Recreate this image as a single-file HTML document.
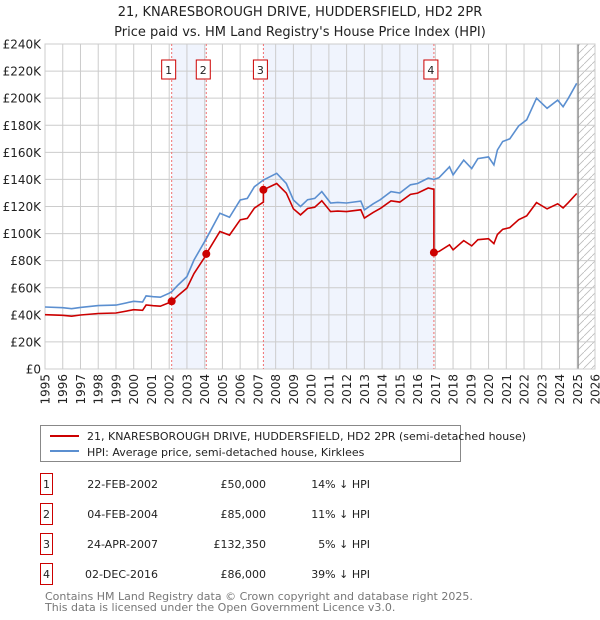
<!DOCTYPE html>
<html><head><meta charset="utf-8"><style>
body{margin:0;background:#fff;font-family:"DejaVu Sans","Liberation Sans",sans-serif;}
#wrap{position:relative;width:600px;height:620px;overflow:hidden;}
svg text{font-family:"DejaVu Sans","Liberation Sans",sans-serif;}
</style></head><body>
<div id="wrap">
<svg id="chart" width="600" height="620"></svg>
</div>
<script>
const hpiYears=[1995,1996,1996.5,1997,1998,1999,2000,2000.5,2000.7,2001.1,2001.5,2002,2002.14,2002.5,2003,2003.4,2004.1,2004.86,2005.4,2006,2006.4,2006.8,2007.31,2008.06,2008.6,2009,2009.4,2009.8,2010.2,2010.6,2011.1,2011.5,2012,2012.8,2013,2013.5,2013.9,2014.5,2015,2015.6,2016,2016.6,2016.92,2017.2,2017.8,2018,2018.6,2019.05,2019.4,2020,2020.3,2020.5,2020.8,2021.2,2021.7,2022.15,2022.7,2023.3,2023.9,2024.2,2024.5,2024.97];
const hpiValues=[45.8,45.3,44.5,45.5,46.8,47.2,50,49.5,54,53.4,53,56,57.1,62,68.2,80.5,96.5,115,112,124.8,126,134.6,139.6,144.5,137,124.8,120,125,126,131,122.6,123,122.6,124,117.5,122,125,131,130,136,137,141,140,141.2,149.3,143.3,154.3,148,155.4,156.6,150.7,161.7,168,170,179.5,184,200,192.5,198.6,193.7,200,211];
const saleYears=[2002.14,2004.09,2007.31,2016.92];
const salePrices=[50,85,132.35,86];
const saleLabels=["1","2","3","4"];
const yTicks=[0,20,40,60,80,100,120,140,160,180,200,220,240];
const xTicks=[1995,1996,1997,1998,1999,2000,2001,2002,2003,2004,2005,2006,2007,2008,2009,2010,2011,2012,2013,2014,2015,2016,2017,2018,2019,2020,2021,2022,2023,2024,2025,2026];

const L=45,R=595,T=44,B=369,X0=1995,X1=2026;
const NS="http://www.w3.org/2000/svg";
const svg=document.getElementById('chart');
function sx(v){return L+(v-X0)/(X1-X0)*(R-L);}
function sy(v){return B-v/240*(B-T);}
function mk(tag,at,parent){const e=document.createElementNS(NS,tag);for(const k in at)e.setAttribute(k,at[k]);(parent||svg).appendChild(e);return e;}
function hpiAt(y){for(let i=0;i<hpiYears.length-1;i++){if(y>=hpiYears[i]&&y<=hpiYears[i+1]){const t=(y-hpiYears[i])/(hpiYears[i+1]-hpiYears[i]);return hpiValues[i]+t*(hpiValues[i+1]-hpiValues[i]);}}return y<hpiYears[0]?hpiValues[0]:hpiValues[hpiValues.length-1];}

let t=mk('text',{x:300,y:16,'text-anchor':'middle','font-size':'13',fill:'#222'});t.textContent="21, KNARESBOROUGH DRIVE, HUDDERSFIELD, HD2 2PR";


t=mk('text',{x:300,y:36,'text-anchor':'middle','font-size':'13',fill:'#222'});t.textContent="Price paid vs. HM Land Registry's House Price Index (HPI)";



for(let i=0;i<saleYears.length-1;i+=2){
  const r=mk('rect',{x:sx(saleYears[i]),y:T,width:sx(saleYears[i+1])-sx(saleYears[i]),height:B-T,fill:'#f0f4fd'});
  
  
}
const defs=mk('defs',{});
const pat=mk('pattern',{id:'hatch',width:8,height:8,patternUnits:'userSpaceOnUse'},defs);
mk('path',{d:'M0,8 L8,0',stroke:'#bbb','stroke-width':'0.8'},pat);
const hr=mk('rect',{x:sx(2025.05),y:T,width:R-sx(2025.05),height:B-T,fill:'url(#hatch)'});



yTicks.forEach(v=>{
  const g=mk('line',{x1:L,x2:R,y1:sy(v),y2:sy(v),stroke:'#cccccc','stroke-width':'1'});
  
  
  const tx=mk('text',{x:L-4,y:sy(v)+4.5,'text-anchor':'end','font-size':'12',fill:'#222'});
  tx.textContent=v===0?'£0':'£'+v+'K';
  
  
});
xTicks.forEach((v,i)=>{
  const g=mk('line',{x1:sx(v),x2:sx(v),y1:T,y2:B,stroke:'#cccccc','stroke-width':'1'});
  
  
  const x=sx(v)+4.5;
  const tx=mk('text',{x:x,y:374,'text-anchor':'end','font-size':'12',fill:'#222',transform:'rotate(-90 '+x+' 374)'});
  tx.textContent=v;
  
  
});
const nl=mk('line',{x1:sx(2025.05),x2:sx(2025.05),y1:T,y2:B,stroke:'#888','stroke-width':'1.2'});


const fr=mk('rect',{x:L,y:T,width:R-L,height:B-T,fill:'none',stroke:'#ccc'});



saleYears.forEach((y,i)=>{
  const l=mk('line',{x1:sx(y),x2:sx(y),y1:T,y2:B,stroke:'#f07070','stroke-width':'1','stroke-dasharray':'2,2'});
  
  
  const bx=mk('rect',{x:sx(y)-10,y:60,width:14,height:19,fill:'#fff',stroke:'#cc0000','stroke-width':'1'});
  
  
  const tx=mk('text',{x:sx(y)-3,y:74,'text-anchor':'middle','font-size':'11',fill:'#222'});
  tx.textContent=saleLabels[i];
  
  
});

let d='';
hpiYears.forEach((y,i)=>{if(y<=2025.05)d+=(i?'L':'M')+sx(y).toFixed(1)+','+sy(hpiValues[i]).toFixed(1);});
const hp=mk('path',{d:d,fill:'none',stroke:'#5b8fd0','stroke-width':'1.6'});



const allYears=hpiYears.concat(saleYears).sort((a,b)=>a-b);
let d2='',prevK=0;
allYears.forEach((y,j)=>{
  let k=0;for(let i=0;i<saleYears.length;i++)if(y>=saleYears[i])k=i;
  if(k!==prevK){const vb=salePrices[prevK]*hpiAt(y)/hpiAt(saleYears[prevK]);d2+='L'+sx(y).toFixed(1)+','+sy(vb).toFixed(1);prevK=k;}
  const v=salePrices[k]*hpiAt(y)/hpiAt(saleYears[k]);
  d2+=(j?'L':'M')+sx(y).toFixed(1)+','+sy(v).toFixed(1);
});
const pp=mk('path',{d:d2,fill:'none',stroke:'#cc0000','stroke-width':'1.6'});


saleYears.forEach((y,i)=>{
  const c=mk('circle',{cx:sx(y),cy:sy(salePrices[i]),r:4,fill:'#cc0000'});
  
  
});

const lg=mk('rect',{x:40.5,y:425.5,width:420,height:36,fill:'#fff',stroke:'#888'});


mk('line',{x1:50,x2:79,y1:436,y2:436,stroke:'#cc0000','stroke-width':'2'});
mk('line',{x1:50,x2:79,y1:451,y2:451,stroke:'#5b8fd0','stroke-width':'2'});
t=mk('text',{x:87,y:440,'font-size':'11',fill:'#222'});t.textContent="21, KNARESBOROUGH DRIVE, HUDDERSFIELD, HD2 2PR (semi-detached house)";


t=mk('text',{x:87,y:456,'font-size':'11',fill:'#222'});t.textContent="HPI: Average price, semi-detached house, Kirklees";



const dates=["22-FEB-2002","04-FEB-2004","24-APR-2007","02-DEC-2016"];
const prices=["£50,000","£85,000","£132,350","£86,000"];
const pcts=["14% ↓ HPI","11% ↓ HPI","5% ↓ HPI","39% ↓ HPI"];
dates.forEach((dt,i)=>{
  const y=487+i*30;
  const b=mk('rect',{x:40.5,y:y-13.5,width:12,height:21,fill:'#fff',stroke:'#cc0000'});
  
  
  let tx=mk('text',{x:46.5,y:y+1,'text-anchor':'middle','font-size':'11',fill:'#222'});tx.textContent=saleLabels[i];
  tx=mk('text',{x:158,y:y+1,'text-anchor':'end','font-size':'11',fill:'#222'});tx.textContent=dt;
  
  
  tx=mk('text',{x:266,y:y+1,'text-anchor':'end','font-size':'11',fill:'#222'});tx.textContent=prices[i];
  
  
  tx=mk('text',{x:370,y:y+1,'text-anchor':'end','font-size':'11',fill:'#222'});tx.textContent=pcts[i];
  
  
});
t=mk('text',{x:45,y:600,'font-size':'11',fill:'#777'});t.textContent="Contains HM Land Registry data © Crown copyright and database right 2025.";


t=mk('text',{x:45,y:611,'font-size':'11',fill:'#777'});t.textContent="This data is licensed under the Open Government Licence v3.0.";


</script>
</body></html>
